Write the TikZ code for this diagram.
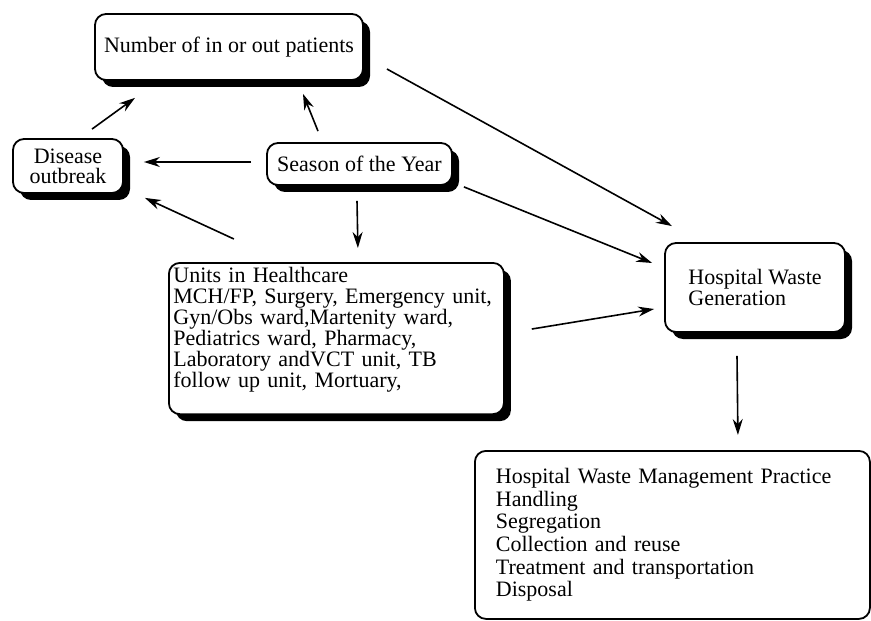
\documentclass[tikz,border=0pt]{standalone}
\usepackage{fontspec}
\setmainfont{Liberation Serif}
\usepackage{tikz}
\usetikzlibrary{arrows.meta,calc,shadows}
\tikzset{
  blk/.style ={draw=black, line width=0.9pt, fill=white, rounded corners=5.5pt,
               inner sep=2pt, font=\fontsize{11}{10.5}\selectfont},
  shd/.style ={blk, drop shadow={shadow xshift=3.5pt, shadow yshift=-3.5pt,
               fill=black, opacity=1}},
  ar/.style  ={draw=black, line width=0.8pt, -{Stealth[length=8pt,width=5pt]}},
}

\begin{document}
\begin{tikzpicture}[x=0.5pt,y=-0.5pt]
  \useasboundingbox (0,0) rectangle (871,620);
  % boxes
  \node[shd,minimum width=134pt,minimum height=33pt] (num) at (229,47) {Number of in or out patients};
  \node[shd,align=center,minimum width=55pt,minimum height=27pt,
        font=\fontsize{11}{10}\selectfont] (dis) at (68,166) {Disease\\outbreak};
  \node[shd,minimum width=92.5pt,minimum height=21pt] (sea) at (359.5,164) {Season of the Year};
  \node[shd,anchor=north west,align=left,text width=163pt,inner xsep=2.25pt,
        text depth=64pt] (unit) at (168,262)
    {Units in Healthcare\\MCH/FP, Surgery, Emergency unit,\\Gyn/Obs ward,Martenity ward,\\
     Pediatrics ward, Pharmacy,\\Laboratory andVCT unit, TB\\follow up unit, Mortuary,};
  \node[shd,align=left,minimum width=90pt,minimum height=44.5pt,
        font=\fontsize{11}{10.8}\selectfont] (hwg) at (755,287.5) {Hospital Waste\\Generation};
  \node[blk,anchor=north west,align=left,text width=176.5pt,inner xsep=10.5pt,
        minimum height=84pt,font=\fontsize{11}{11.3}\selectfont] (mgmt) at (474,450)
    {Hospital Waste Management Practice\\Handling\\Segregation\\Collection and reuse\\
     Treatment and transportation\\Disposal};
  % arrows
  \draw[ar] ($(dis.north)+(24,-9)$) -- ($(num.south)+(-94,17)$);
  \draw[ar] ($(sea.north)+(-41.5,-11)$) -- ($(num.south)+(74,13)$);
  \draw[ar] ($(sea.west)+(-15,-2)$) -- ($(dis.east)+(20,-4)$);
  \draw[ar] ($(unit.north)+(-102.5,-23)$) -- ($(dis.south east)+(21,4)$);
  \draw[ar] ($(sea.south)+(-2.5,15)$) -- ($(unit.north)+(21.5,-14)$);
  \draw[ar] ($(num.east)+(23,22)$) -- ($(hwg.north)+(-83,-16)$);
  \draw[ar] ($(sea.south east)+(11,1)$) -- ($(hwg.west)+(-12,-24.5)$);
  \draw[ar] ($(unit.east)+(27,-9.5)$) -- ($(hwg.west)+(-10,21.5)$);
  \draw[ar] ($(hwg.south)+(-18,23)$) -- ($(mgmt.north)+(65.5,-15)$);
\end{tikzpicture}
\end{document}
